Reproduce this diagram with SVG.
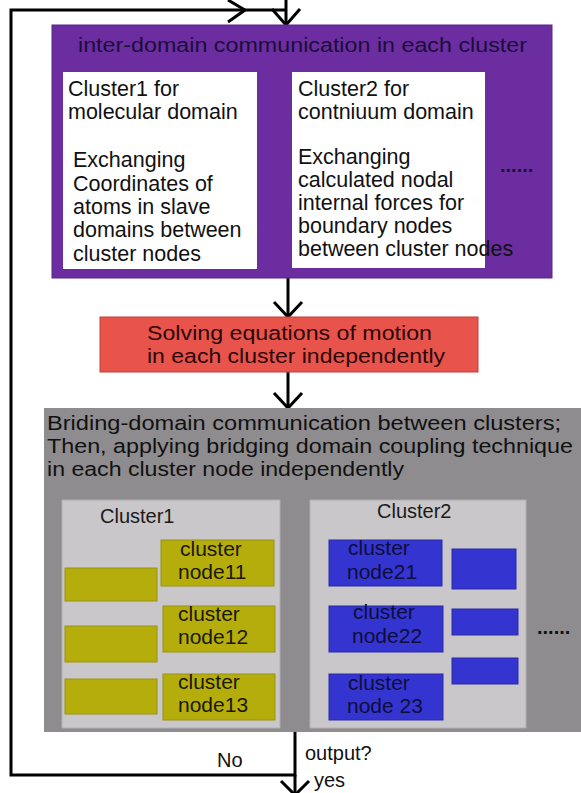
<svg xmlns="http://www.w3.org/2000/svg" width="581" height="793" viewBox="0 0 581 793">
<defs>
<style>
text{font-family:"Liberation Sans",Arial,sans-serif;font-size:20px}
.ln{fill:none;stroke:#000;stroke-width:3}
.chev{fill:none;stroke:#000;stroke-width:3;stroke-linejoin:miter}
.thin{fill:none;stroke:#111;stroke-width:1.5}
.yel{fill:#b5ad0c;stroke:#9a9410;stroke-width:1}
.blu{fill:#3434d0;stroke:#2a2aa8;stroke-width:1}
.ty{fill:#1a1800;font-size:21px}
.tb{fill:#0e0e3a;font-size:21px}
.wt{fill:#111;font-size:21.5px}
</style>
<marker id="ah" viewBox="0 0 18 10" refX="17" refY="5" markerWidth="18" markerHeight="10" markerUnits="userSpaceOnUse" orient="auto-start-reverse">
<path d="M0,0 L18,5 L0,10 L4,5 Z" fill="#000"/>
</marker>
</defs>
<rect width="581" height="793" fill="#fff"/>

<g id="connectors">
<polyline class="ln" points="295,732 295,775 11,775 11,10 286,10"/>
<line class="ln" x1="286" y1="0" x2="286" y2="25"/>
<polyline class="chev" points="228,0 245,10 228,22"/>
<polyline class="chev" points="272,9 286,25 300,9"/>
<line class="ln" x1="288" y1="278" x2="288" y2="317"/>
<polyline class="chev" points="274,302 288,317 302,302"/>
<line class="ln" x1="288" y1="372" x2="288" y2="408"/>
<polyline class="chev" points="274,393 288,408 302,393"/>
<line class="ln" x1="295" y1="775" x2="295" y2="793"/>
<polyline class="chev" points="281,781 295,795 309,781"/>
<line class="thin" x1="265" y1="562" x2="330" y2="562" marker-start="url(#ah)" marker-end="url(#ah)"/>
<line class="thin" x1="265" y1="630" x2="330" y2="630" marker-start="url(#ah)" marker-end="url(#ah)"/>
<line class="thin" x1="265" y1="694" x2="330" y2="694" marker-start="url(#ah)" marker-end="url(#ah)"/>
</g>

<g id="inter-domain">
<rect x="52" y="25" width="500" height="253" fill="#6b2d9f" stroke="#5a2688" stroke-width="1"/>
<text x="78" y="52" fill="#1a0d3a" font-size="22" textLength="449" lengthAdjust="spacingAndGlyphs">inter-domain communication in each cluster</text>
</g>

<g id="cluster1-molecular">
<rect x="63" y="72" width="194" height="197" fill="#fff"/>
<text class="wt" x="68" y="96">Cluster1 for</text>
<text class="wt" x="68" y="119">molecular domain</text>
<text class="wt" x="73" y="167">Exchanging</text>
<text class="wt" x="73" y="191">Coordinates of</text>
<text class="wt" x="73" y="214">atoms in slave</text>
<text class="wt" x="73" y="237">domains between</text>
<text class="wt" x="73" y="261">cluster nodes</text>
</g>

<g id="cluster2-continuum">
<rect x="292" y="72" width="193" height="196" fill="#fff"/>
<text class="wt" x="298" y="96">Cluster2 for</text>
<text class="wt" x="298" y="119">contniuum domain</text>
<text class="wt" x="298" y="164">Exchanging</text>
<text class="wt" x="298" y="187">calculated nodal</text>
<text class="wt" x="298" y="210">internal forces for</text>
<text class="wt" x="298" y="233">boundary nodes</text>
<text class="wt" x="298" y="256">between cluster nodes</text>
</g>

<g id="dots-top">
<text x="500" y="172" fill="#1a0d3a" font-size="22" font-weight="bold">......</text>
</g>

<g id="solving">
<rect x="100" y="317" width="378" height="55" fill="#e8544b" stroke="#c04038" stroke-width="1"/>
<text x="147" y="340" fill="#2a0606" font-size="22" textLength="285" lengthAdjust="spacingAndGlyphs">Solving equations of motion</text>
<text x="147" y="363" fill="#2a0606" font-size="22" textLength="298" lengthAdjust="spacingAndGlyphs">in each cluster independently</text>
</g>

<g id="bridging">
<rect x="44" y="408" width="537" height="324" fill="#8e8c8e"/>
<text x="47" y="430" fill="#111" font-size="22.5" textLength="514" lengthAdjust="spacingAndGlyphs">Briding-domain communication between clusters;</text>
<text x="47" y="453" fill="#111" font-size="22.5" textLength="526" lengthAdjust="spacingAndGlyphs">Then, applying bridging domain coupling technique</text>
<text x="47" y="476" fill="#111" font-size="22.5" textLength="357" lengthAdjust="spacingAndGlyphs">in each cluster node independently</text>
</g>

<g id="cluster1-box">
<rect x="62" y="500" width="218" height="228" fill="#c9c7c9" stroke="#b0aeb0" stroke-width="1"/>
<text x="100" y="523" fill="#1a1a1a" font-size="18.5">Cluster1</text>
<rect class="yel" x="65" y="568" width="92" height="33"/>
<rect class="yel" x="65" y="626" width="92" height="36"/>
<rect class="yel" x="65" y="679" width="92" height="35"/>
</g>

<g id="node11">
<rect class="yel" x="161" y="540" width="113" height="46"/>
<text class="ty" x="180" y="556">cluster</text>
<text class="ty" x="178" y="579">node11</text>
</g>
<g id="node12">
<rect class="yel" x="163" y="606" width="112" height="46"/>
<text class="ty" x="178" y="621">cluster</text>
<text class="ty" x="178" y="644">node12</text>
</g>
<g id="node13">
<rect class="yel" x="163" y="674" width="112" height="46"/>
<text class="ty" x="178" y="689">cluster</text>
<text class="ty" x="178" y="712">node13</text>
</g>

<g id="cluster2-box">
<rect x="310" y="500" width="216" height="228" fill="#c9c7c9" stroke="#b0aeb0" stroke-width="1"/>
<text x="377" y="518" fill="#1a1a1a" font-size="20">Cluster2</text>
<rect class="blu" x="452" y="549" width="64" height="40"/>
<rect class="blu" x="452" y="609" width="66" height="26"/>
<rect class="blu" x="452" y="658" width="66" height="26"/>
</g>

<g id="node21">
<rect class="blu" x="329" y="540" width="113" height="46"/>
<text class="tb" x="348" y="555">cluster</text>
<text class="tb" x="347" y="579">node21</text>
</g>
<g id="node22">
<rect class="blu" x="329" y="606" width="114" height="46"/>
<text class="tb" x="353" y="619">cluster</text>
<text class="tb" x="352" y="643">node22</text>
</g>
<g id="node23">
<rect class="blu" x="329" y="674" width="114" height="46"/>
<text class="tb" x="348" y="690">cluster</text>
<text class="tb" x="347" y="713">node 23</text>
</g>

<g id="dots-bottom">
<text x="537" y="634" fill="#111" font-size="22" font-weight="bold">......</text>
</g>

<g id="labels">
<text x="217" y="767" fill="#111" font-size="20">No</text>
<text x="305" y="760" fill="#111" font-size="20">output?</text>
<text x="314" y="787" fill="#111" font-size="18">yes</text>
</g>
</svg>
